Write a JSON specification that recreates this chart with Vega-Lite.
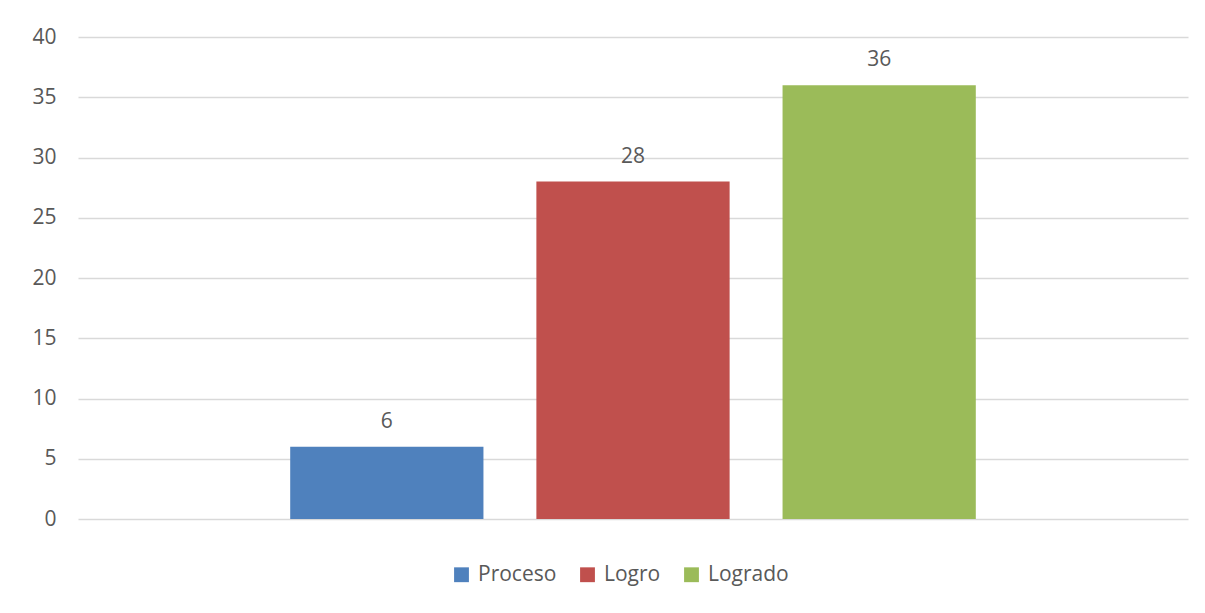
{
  "$schema": "https://vega.github.io/schema/vega-lite/v6.json",
  "width": 1110,
  "height": 482,
  "autosize": {"type": "none"},
  "padding": {"left": 78, "top": 37, "right": 17, "bottom": 94},
  "background": "white",
  "config": {
    "view": {"stroke": null},
    "font": "Open Sans",
    "axis": {"labelFont": "Open Sans", "labelColor": "#595959"},
    "legend": {"labelFont": "Open Sans", "labelColor": "#595959"}
  },
  "data": {
    "values": [
      {"serie": "Proceso", "valor": 6},
      {"serie": "Logro", "valor": 28},
      {"serie": "Logrado", "valor": 36}
    ]
  },
  "encoding": {
    "x": {
      "field": "serie",
      "type": "nominal",
      "sort": ["Proceso", "Logro", "Logrado"],
      "scale": {"paddingInner": 0.215, "paddingOuter": 0.862},
      "axis": null
    },
    "y": {
      "field": "valor",
      "type": "quantitative",
      "scale": {"domain": [0, 40], "nice": false},
      "axis": {
        "values": [0, 5, 10, 15, 20, 25, 30, 35, 40],
        "title": null,
        "domain": false,
        "ticks": false,
        "labelPadding": 22,
        "labelFontSize": 21,
        "gridColor": "#D9D9D9",
        "gridWidth": 1.5
      }
    }
  },
  "layer": [
    {
      "mark": {"type": "bar"},
      "encoding": {
        "color": {
          "field": "serie",
          "type": "nominal",
          "sort": ["Proceso", "Logro", "Logrado"],
          "scale": {"domain": ["Proceso", "Logro", "Logrado"], "range": ["#4F81BD", "#C0504D", "#9BBB59"]},
          "legend": {
            "title": null,
            "orient": "none",
            "legendX": 373,
            "legendY": 527,
            "direction": "horizontal",
            "symbolType": "square",
            "symbolSize": 220,
            "symbolStrokeWidth": 0,
            "labelFontSize": 21,
            "columnPadding": 20,
            "labelOffset": 6
          }
        }
      }
    },
    {
      "mark": {"type": "text", "baseline": "alphabetic", "dy": -19, "fontSize": 21, "color": "#595959"},
      "encoding": {"text": {"field": "valor", "type": "quantitative"}}
    }
  ]
}
